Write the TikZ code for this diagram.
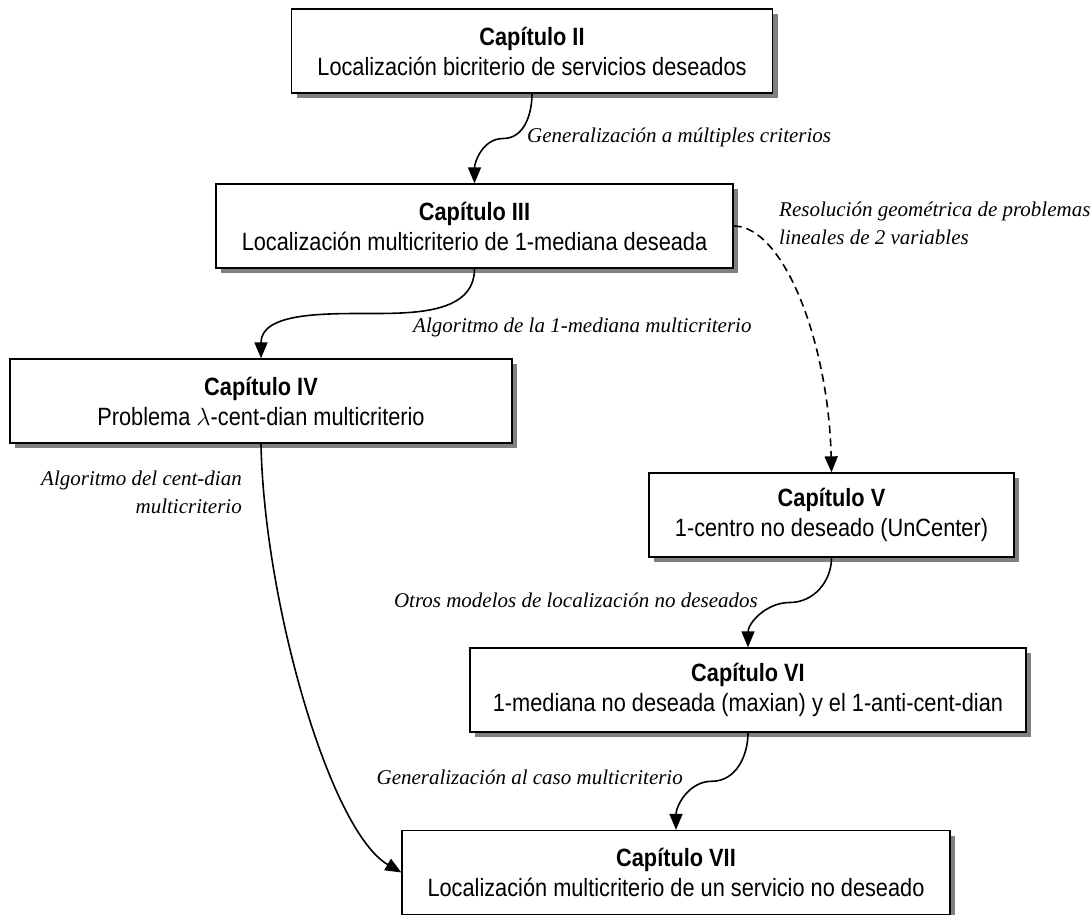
\documentclass[tikz,border=0pt]{standalone}
\usepackage{fontspec}
\setmainfont{Liberation Serif}
\newfontfamily\boxfont[FakeStretch=0.87]{Liberation Sans}
\usetikzlibrary{arrows.meta,shadows,calc}

\tikzset{
  chapter/.style={draw, line width=1.3pt, fill=white, align=center,
    minimum height=84pt, inner sep=0pt,
    font=\boxfont\fontsize{25}{30}\selectfont,
    drop shadow={shadow xshift=5pt, shadow yshift=-5pt, fill=black!50, opacity=1}},
  link/.style={line width=1.6pt, -{Triangle[length=16pt,width=13pt]}},
  note/.style={font=\itshape\fontsize{21}{28}\selectfont, inner sep=0pt},
}

\begin{document}
\begin{tikzpicture}[x=1pt, y=-1pt]
    \useasboundingbox (0,0) rectangle (1092,915);

    %% Chapters
    \node[chapter, minimum width=481pt] (cap2) at (532,51) {\textbf{Capítulo II}\\Localización bicriterio de servicios deseados};
    \node[chapter, minimum width=517pt] (cap3) at (474.5,226) {\textbf{Capítulo III}\\Localización multicriterio de 1-mediana deseada};
    \node[chapter, minimum width=502pt] (cap4) at (261,401) {\textbf{Capítulo IV}\\Problema $\lambda$-cent-dian multicriterio};
    \node[chapter, minimum width=365pt] (cap5) at (831.5,515) {\textbf{Capítulo V}\\1-centro no deseado (UnCenter)};
    \node[chapter, minimum width=556pt] (cap6) at (748,690) {\textbf{Capítulo VI}\\1-mediana no deseada (maxian) y el 1-anti-cent-dian};
    \node[chapter, minimum width=548pt] (cap7) at (676,872.5) {\textbf{Capítulo VII}\\Localización multicriterio de un servicio no deseado};

    %% Links
    % II -> III
    \draw[link] (cap2.south) to[out=-90,in=0] ($(cap2.south)!0.5!(cap3.north)$) coordinate (m23) to[out=180,in=90] (cap3.north);
    % III -> IV
    \draw[link] (cap3.south) to[out=-90,in=0] ($(cap3.south)!0.5!(cap4.north)$) coordinate (m34) to[out=180,in=90] (cap4.north);
    % III -> V (dashed)
    \draw[link, dash pattern=on 8pt off 5pt] (cap3.east) .. controls +(50,0) and +(-3,-130) .. (cap5.north);
    % IV -> VII
    \draw[link] (cap4.south) .. controls +(3,157) and +(-72,-42) .. (cap7.west);
    % V -> VI
    \draw[link] (cap5.south) to[out=-90,in=0] ($(cap5.south)!0.5!(cap6.north)$) coordinate (m56) to[out=180,in=90] (cap6.north);
    % VI -> VII
    \draw[link] (cap6.south) to[out=-90,in=0] ($(cap6.south)!0.5!(cap7.north)$) coordinate (m67) to[out=180,in=90] (cap7.north);

    %% Labels
    \node[note, anchor=west] (lab23) at (527,137) {Generalización a múltiples criterios};
    \node[note, anchor=west] (lab34) at (413,327) {Algoritmo de la 1-mediana multicriterio};
    \node[note, anchor=west, align=left] (lab35) at (779,223) {Resolución geométrica de problemas\\lineales de 2 variables};
    \node[note, anchor=east, align=right] (lab47) at (242,492) {Algoritmo del cent-dian\\multicriterio};
    \node[note, anchor=east] (lab56) at (758,600) {Otros modelos de localización no deseados};
    \node[note, anchor=east] (lab67) at (683,777) {Generalización al caso multicriterio};

\end{tikzpicture}
\end{document}
